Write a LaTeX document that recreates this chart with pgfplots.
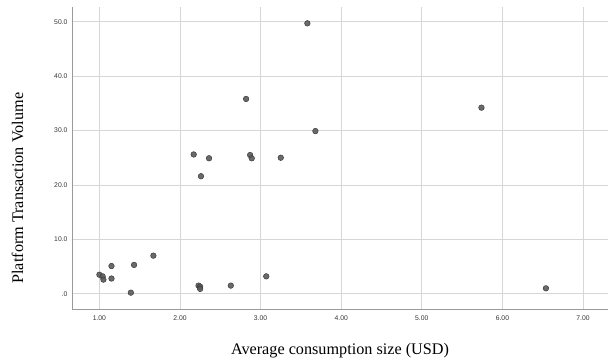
\documentclass[border=0pt]{standalone}
\usepackage{fontspec}
\setmainfont{Liberation Serif}
\newfontfamily\ticksans{Liberation Sans}
\usepackage{pgfplots}
\pgfplotsset{compat=1.18}
\usetikzlibrary{calc}
\definecolor{gridc}{HTML}{D6D6D6}
\definecolor{axc}{HTML}{9A9A9A}
\definecolor{dotf}{HTML}{5A5A5A}
\definecolor{dotd}{HTML}{3A3A3A}
\begin{document}
\begin{tikzpicture}
\begin{axis}[
  scale only axis,
  width=536pt, height=302pt,
  xmin=0.66, xmax=7.31,
  ymin=-2.8, ymax=52.7,
  axis x line*=bottom,
  axis y line*=left,
  axis line style={color=axc, line width=0.8pt},
  xtick={1,2,3,4,5,6,7},
  xticklabels={1.00,2.00,3.00,4.00,5.00,6.00,7.00},
  ytick={0,10,20,30,40,50},
  yticklabels={.0,10.0,20.0,30.0,40.0,50.0},
  major tick length=0pt,
  tick label style={font=\ticksans\fontsize{6.8}{8}\selectfont, text=black!80},
  xticklabel style={yshift=-3pt},
  yticklabel style={xshift=-1pt},
  grid=major,
  major grid style={color=gridc, line width=0.8pt},
  xlabel={Average consumption size (USD)},
  ylabel={Platform Transaction Volume},
  label style={font=\fontsize{16.2}{19}\selectfont},
  xlabel style={at={(axis description cs:0.5,0)}, anchor=north, yshift=-31pt},
  ylabel style={at={(axis description cs:0,0.40)}, anchor=south, yshift=45pt},
  clip=false,
]
\addplot[only marks, mark=*, mark size=2.8pt,
  mark options={fill=dotf, draw=dotd, line width=0.5pt, fill opacity=0.9}]
coordinates {
(3.58,49.7) (2.82,35.8) (5.74,34.2) (3.68,29.9)
(2.17,25.6) (2.36,24.9) (2.87,25.5) (2.89,24.9) (3.25,25.0)
(2.26,21.6) (1.67,7.0) (1.15,5.1) (1.43,5.3)
(1.00,3.5) (1.04,3.2) (1.05,2.6) (1.15,2.8) (1.39,0.2)
(2.23,1.5) (2.25,1.3) (2.25,0.9) (2.63,1.5) (3.07,3.2) (6.54,1.0)
};
\coordinate (bl) at (rel axis cs:0,0);
\coordinate (tr) at (rel axis cs:1,1);
\end{axis}
\pgfresetboundingbox
\path ($(bl)+(-72pt,-52pt)$) rectangle ($(tr)+(0pt,7pt)$);
\end{tikzpicture}
\end{document}
